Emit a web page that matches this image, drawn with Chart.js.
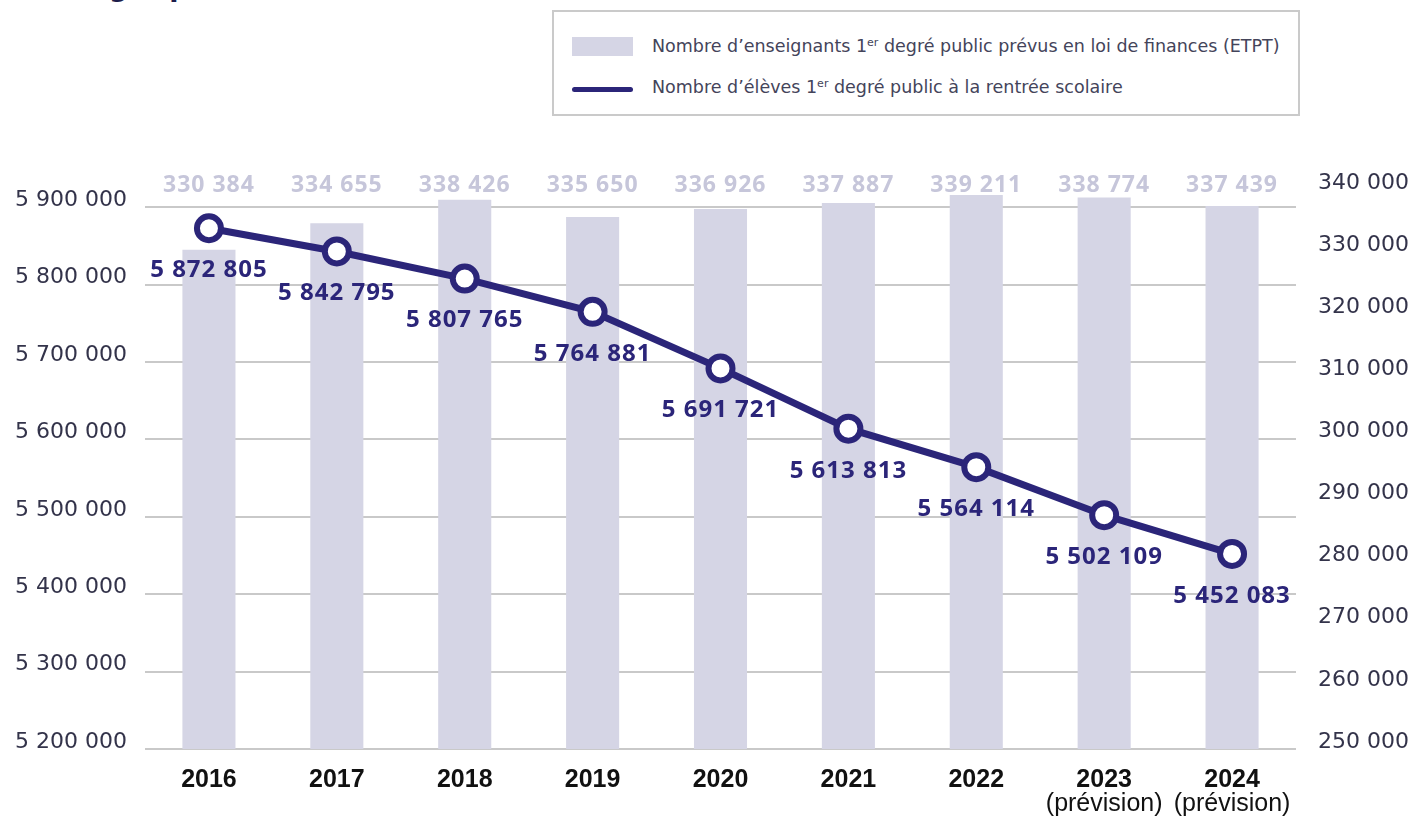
<!DOCTYPE html>
<html lang="fr">
<head>
<meta charset="utf-8">
<script src="https://cdn.jsdelivr.net/npm/chart.js@4/dist/chart.umd.min.js"></script>
<style>
  body { margin: 0; background: #fff; }
  #wrap { position: relative; width: 1417px; height: 817px; overflow: hidden; }
  #title { position: absolute; left: 12px; top: -27px; font: bold 27px "DejaVu Sans", sans-serif; color: #1d1d4b; line-height: 27px; white-space: nowrap; }
  #title .sup { position: relative; top: -9px; font-size: 16px; }
  #legend { position: absolute; left: 552px; top: 10px; width: 748px; height: 106px; box-sizing: border-box; border: 2px solid #cacaca; background: #fff; }
  .row { position: absolute; left: 0; height: 20px; font: 17.5px "DejaVu Sans", sans-serif; color: #44445a; white-space: nowrap; }
  .row span.txt { position: absolute; left: 98px; top: 0; line-height: 20px; }
  .row sup { font-size: 11px; vertical-align: 6px; line-height: 0; }
  .sw { position: absolute; left: 18px; }
  canvas { position: absolute; left: 0; top: 0; }
</style>
</head>
<body>
<div id="wrap">
  <div id="title">(1<span class="sup">er</span> degré public 2016-2024)</div>
  <canvas id="chart" width="1417" height="817"></canvas>
  <div id="legend">
    <div class="row" style="top:24px"><div class="sw" style="top:1px;width:61px;height:19px;background:#d5d5e5"></div><span class="txt" id="lg1"></span></div>
    <div class="row" style="top:65px"><div class="sw" style="top:10px;width:61px;height:5px;border-radius:3px;background:#2b2579"></div><span class="txt" id="lg2"></span></div>
  </div>
</div>
<script>
// données
const years = ['2016', '2017', '2018', '2019', '2020', '2021', '2022', '2023', '2024'];
const prevision = [false, false, false, false, false, false, false, true, true];
const enseignants = [330384, 334655, 338426, 335650, 336926, 337887, 339211, 338774, 337439];
const eleves = [5872805, 5842795, 5807765, 5764881, 5691721, 5613813, 5564114, 5502109, 5452083];
const leftTicks = [5200000, 5300000, 5400000, 5500000, 5600000, 5700000, 5800000, 5900000];
const rightTicks = [250000, 260000, 270000, 280000, 290000, 300000, 310000, 320000, 330000, 340000];

const labelBars = 'Nombre d\u2019enseignants 1<sup>er</sup> degré public prévus en loi de finances (ETPT)';
const labelLine = 'Nombre d\u2019élèves 1<sup>er</sup> degré public à la rentrée scolaire';

document.getElementById('lg1').innerHTML = labelBars;
document.getElementById('lg2').innerHTML = labelLine;

function fmt(v) {
    return String(v).replace(/\B(?=(\d{3})+(?!\d))/g, ' ');
}

const NAVY = '#2b2579';

// labels on bars, points and "(prévision)"
const labelsPlugin = {
    id: 'labels',
    afterDatasetsDraw(chart) {
        const ctx = chart.ctx;
        const area = chart.chartArea;
        ctx.save();
        ctx.textAlign = 'center';
        ctx.textBaseline = 'middle';
        ctx.letterSpacing = '1px';

        // bar values
        ctx.font = 'bold 23px "Open Sans", sans-serif';
        ctx.fillStyle = '#c6c6da';
        chart.getDatasetMeta(1).data.forEach((el, i) => {
            ctx.fillText(fmt(enseignants[i]), el.x, area.top - 5);
        });

        // line values
        ctx.font = 'bold 24px "Open Sans", sans-serif';
        ctx.fillStyle = NAVY;
        chart.getDatasetMeta(0).data.forEach((el, i) => {
            ctx.fillText(fmt(eleves[i]), el.x, el.y + 42);
        });

        // forecast mention under the year
        ctx.letterSpacing = '0px';
        ctx.font = '25px "Liberation Sans", sans-serif';
        ctx.fillStyle = '#111';
        const xs = chart.scales.x;
        prevision.forEach((p, i) => {
            if (p) ctx.fillText('(prévision)', xs.getPixelForTick(i), 804);
        });
        ctx.restore();
    }
};

new Chart(document.getElementById('chart'), {
    data: {
        labels: years,
        datasets: [
            {
                type: 'line',
                label: 'élèves',
                data: eleves,
                yAxisID: 'y',
                borderColor: NAVY,
                borderWidth: 7,
                pointRadius: 12,
                pointBorderWidth: 6,
                pointBackgroundColor: '#fff',
                pointBorderColor: NAVY,
                tension: 0,
                order: 0
            },
            {
                type: 'bar',
                label: 'enseignants',
                data: enseignants,
                yAxisID: 'y1',
                backgroundColor: '#d5d5e5',
                categoryPercentage: 1,
                barPercentage: 0.415,
                order: 1
            }
        ]
    },
    options: {
        responsive: false,
        animation: false,
        layout: { padding: { top: 190, left: 0, right: 0, bottom: 0 } },
        plugins: {
            legend: { display: false },
            tooltip: { enabled: false }
        },
        scales: {
            x: {
                grid: { display: false, drawTicks: false },
                border: { display: false },
                ticks: {
                    padding: 16,
                    color: '#111',
                    font: { family: 'Liberation Sans', size: 25, weight: 'bold' }
                },
                afterFit(s) { s.height = 68; }
            },
            y: {
                position: 'left',
                min: 5200000,
                max: 5922222,
                afterBuildTicks(s) { s.ticks = leftTicks.map(v => ({ value: v })); },
                grid: { color: '#c9c9c9', lineWidth: 2, drawTicks: false },
                border: { display: false },
                ticks: {
                    padding: 18,
                    labelOffset: -7,
                    color: '#33334a',
                    font: { family: 'DejaVu Sans', size: 22 },
                    callback: v => fmt(v)
                },
                afterFit(s) { s.width = 145; }
            },
            y1: {
                position: 'right',
                min: 250000,
                max: 340000,
                afterBuildTicks(s) { s.ticks = rightTicks.map(v => ({ value: v })); },
                grid: { display: false, drawTicks: false },
                border: { display: false },
                ticks: {
                    padding: 22,
                    labelOffset: -7,
                    color: '#33334a',
                    font: { family: 'DejaVu Sans', size: 22 },
                    callback: v => fmt(v)
                },
                afterFit(s) { s.width = 121; }
            }
        }
    },
    plugins: [labelsPlugin]
});
</script>
</body>
</html>
